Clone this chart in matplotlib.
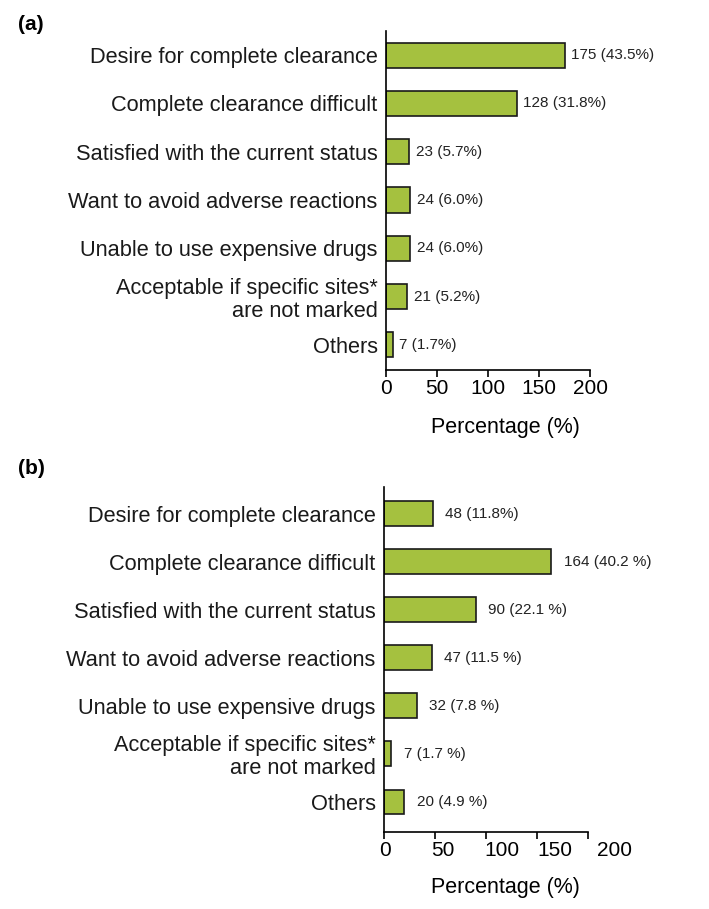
import matplotlib
matplotlib.use("Agg")
import matplotlib.pyplot as plt
from matplotlib.transforms import ScaledTranslation

plt.rcParams['font.family'] = ['Liberation Sans', 'DejaVu Sans']

categories = [
    "Desire for complete clearance",
    "Complete clearance difficult",
    "Satisfied with the current status",
    "Want to avoid adverse reactions",
    "Unable to use expensive drugs",
    "Acceptable if specific sites*\nare not marked",
    "Others",
]
values_a = [175, 128, 23, 24, 24, 21, 7]
labels_a = ["175 (43.5%)", "128 (31.8%)", "23 (5.7%)", "24 (6.0%)", "24 (6.0%)", "21 (5.2%)", "7 (1.7%)"]
values_b = [48, 164, 90, 47, 32, 7, 20]
labels_b = ["48 (11.8%)", "164 (40.2 %)", "90 (22.1 %)", "47 (11.5 %)", "32 (7.8 %)", "7 (1.7 %)", "20 (4.9 %)"]
xticks = [0, 50, 100, 150, 200]

W, H = 709, 909
fig = plt.figure(figsize=(W / 100, H / 100), dpi=100)

bar_color = "#a5c13f"

def panel(rect, values, labels, ylim, offset, tag, tag_y, label_xy, tick_shift=None):
    ax = fig.add_axes(rect)
    y = list(range(len(categories)))
    ax.barh(y, values, height=0.52, color=bar_color, edgecolor="#1a1a1a", linewidth=1.2)
    for yi, v, lab in zip(y, values, labels):
        ax.annotate(lab, (v, yi), xytext=(offset, 0), textcoords="offset points",
                    va="center", ha="left", fontsize=11, color="#222222")
    ax.set_xlim(0, 200)
    ax.set_ylim(*ylim)
    ax.set_yticks(y)
    ax.set_yticklabels(categories, fontsize=15.7, ha="right", color="#1a1a1a",
                       linespacing=1.1)
    ax.tick_params(axis="y", length=0, pad=6)
    ax.set_xticks(xticks)
    ax.set_xticklabels([str(t) for t in xticks], fontsize=15)
    ax.tick_params(axis="x", length=5, width=1.2, pad=1.5, direction="out")
    if tick_shift is not None:
        for lab, dx in zip(ax.get_xticklabels(), tick_shift):
            lab.set_transform(lab.get_transform() + ScaledTranslation(dx / 100, 0, fig.dpi_scale_trans))
    for s in ("top", "right"):
        ax.spines[s].set_visible(False)
    for s in ("left", "bottom"):
        ax.spines[s].set_linewidth(1.2)
    ax.set_xlabel("Percentage (%)", fontsize=15.5, va="center")
    ax.xaxis.set_label_coords(*label_xy)
    fig.text(18 / W, 1 - tag_y / H, tag, fontsize=15, fontweight="bold", va="center", ha="left")
    return ax

panel([386 / W, 1 - 370 / H, 204 / W, 339 / H], values_a, labels_a, (6.52, -0.5), 4.5,
      "(a)", 24, ((505 - 386) / 204, -(427 - 370) / 339))
panel([384 / W, 1 - 832 / H, 204 / W, 345 / H], values_b, labels_b, (6.625, -0.56), 9,
      "(b)", 468, ((505 - 384) / 204, -(888 - 832) / 345), tick_shift=[1, 8, 16, 18, 27])

fig.savefig("out.png", dpi=100)
